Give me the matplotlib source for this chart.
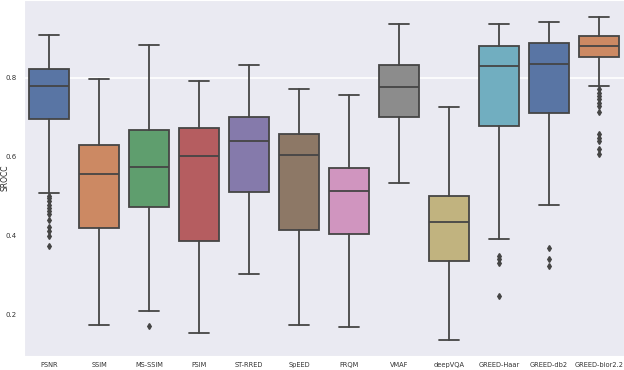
import numpy as np
import matplotlib
matplotlib.use("Agg")
import matplotlib.pyplot as plt
import seaborn as sns

# Box statistics (SROCC per method)
methods = ["PSNR", "SSIM", "MS-SSIM", "FSIM", "ST-RRED", "SpEED", "FRQM",
           "VMAF", "deepVQA", "GREED-Haar", "GREED-db2", "GREED-bior2.2"]
whisker_hi = [0.907, 0.797, 0.884, 0.792, 0.832, 0.770, 0.757, 0.935, 0.726, 0.935, 0.942, 0.955]
q3 = [0.822, 0.630, 0.668, 0.673, 0.699, 0.657, 0.570, 0.831, 0.501, 0.881, 0.888, 0.906]
median = [0.780, 0.556, 0.574, 0.602, 0.640, 0.605, 0.513, 0.777, 0.434, 0.830, 0.835, 0.881]
q1 = [0.695, 0.418, 0.473, 0.385, 0.511, 0.414, 0.403, 0.700, 0.336, 0.678, 0.710, 0.852]
whisker_lo = [0.507, 0.172, 0.209, 0.153, 0.303, 0.172, 0.167, 0.533, 0.134, 0.390, 0.477, 0.780]
outliers = [
    [0.500, 0.495, 0.487, 0.478, 0.470, 0.461, 0.453, 0.440, 0.420, 0.411, 0.398, 0.372],
    [],
    [0.170],
    [],
    [],
    [],
    [],
    [],
    [],
    [0.348, 0.339, 0.331, 0.245],
    [0.368, 0.340, 0.322],
    [0.770, 0.762, 0.753, 0.745, 0.736, 0.728, 0.712, 0.656, 0.648, 0.639, 0.618, 0.607],
]

sns.set_style("darkgrid")
plt.rcParams['font.family'] = ['DejaVu Sans']

fig = plt.figure(figsize=(6.24, 3.70), dpi=100)
ax = fig.add_axes([0.0385, 0.038, 0.9615, 0.962])

stats = []
for i, name in enumerate(methods):
    stats.append({"label": name, "whishi": whisker_hi[i], "q3": q3[i], "med": median[i],
                  "q1": q1[i], "whislo": whisker_lo[i], "fliers": outliers[i]})

line_col = (0.27, 0.27, 0.27)
bp = ax.bxp(stats, positions=np.arange(len(methods)), widths=0.8, patch_artist=True,
            boxprops=dict(edgecolor=line_col, linewidth=1.3),
            medianprops=dict(color=line_col, linewidth=1.3),
            whiskerprops=dict(color=line_col, linewidth=1.3),
            capprops=dict(color=line_col, linewidth=1.3),
            flierprops=dict(marker='d', markersize=3, markerfacecolor=line_col,
                            markeredgecolor=line_col))

pal = sns.color_palette("deep", 10)
for i, box in enumerate(bp["boxes"]):
    box.set_facecolor(sns.desaturate(pal[i % 10], 0.75))

ax.set_xlim(-0.5, len(methods) - 0.5)
ax.set_ylim(0.094, 0.997)
ax.set_yticks([0.2, 0.4, 0.6, 0.8])
ax.yaxis.grid(False)
ax.xaxis.grid(False)
ax.axhline(0.8, color='white', linewidth=1.2, zorder=0)
ax.tick_params(axis='y', labelsize=5, colors='#333333', pad=2)
ax.tick_params(axis='x', labelsize=4.8, colors='#333333', pad=1)
ax.set_ylabel("SROCC", fontsize=5.5)
ax.yaxis.set_label_coords(-0.024, 0.5)

fig.savefig("out.png", dpi=100)
